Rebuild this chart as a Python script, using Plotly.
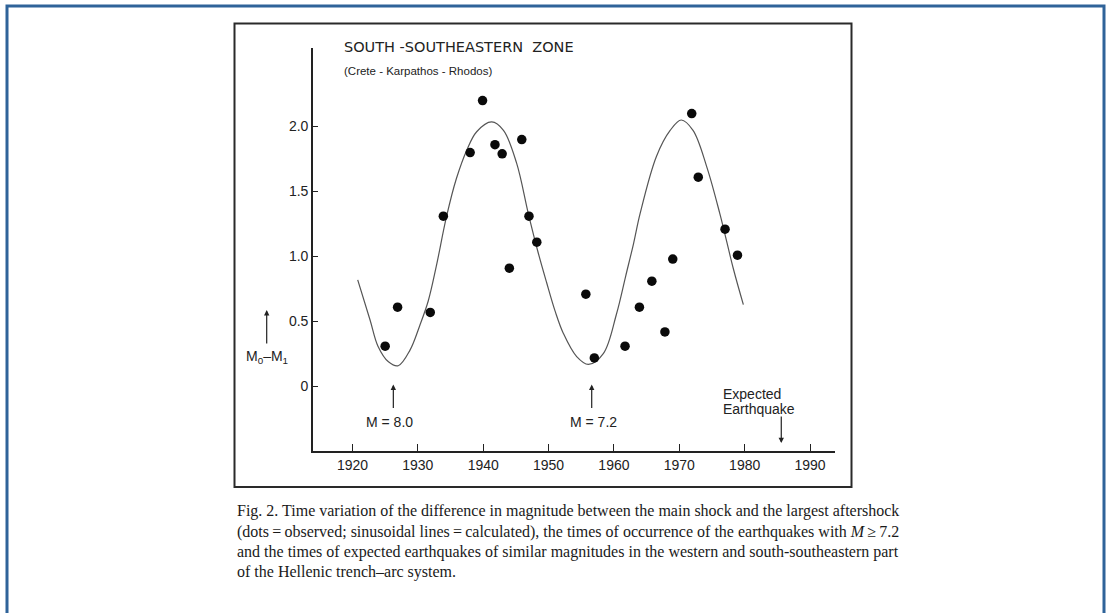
import plotly.graph_objects as go

# ---------------- data ----------------
obs_years = [1925.0, 1926.9, 1931.9, 1933.9, 1938.0, 1939.9, 1941.8, 1942.9, 1944.0,
             1945.9, 1947.0, 1948.2, 1955.7, 1957.0, 1961.7, 1963.9, 1965.8, 1967.8,
             1969.0, 1971.9, 1972.9, 1977.0, 1978.9]
obs_values = [0.31, 0.61, 0.57, 1.31, 1.80, 2.20, 1.86, 1.79, 0.91,
              1.90, 1.31, 1.11, 0.71, 0.22, 0.31, 0.61, 0.81, 0.42,
              0.98, 2.10, 1.61, 1.21, 1.01]

calc_years = [1920.8, 1922.7, 1923.9, 1925.5, 1927.0, 1928.8, 1930.3, 1931.6, 1932.8,
              1934.4, 1935.9, 1937.5, 1939.0, 1941.3, 1943.1, 1945.1, 1946.9, 1948.3,
              1949.7, 1951.0, 1952.25, 1954.3, 1956.1, 1958.4, 1960.4, 1961.8, 1963.0,
              1964.0, 1966.5, 1968.6, 1970.3, 1972.1, 1974.2, 1976.2, 1978.3, 1979.8]
calc_values = [0.82, 0.51, 0.31, 0.19, 0.16, 0.28, 0.47, 0.66, 0.92,
               1.31, 1.60, 1.82, 1.96, 2.035, 1.97, 1.72, 1.33, 1.05,
               0.80, 0.58, 0.41, 0.23, 0.17, 0.255, 0.56, 0.85, 1.10,
               1.33, 1.77, 1.97, 2.05, 1.97, 1.69, 1.33, 0.90, 0.63]

event_years = [1926.25, 1956.6]
event_labels = ["M = 8.0", "M = 7.2"]
expected_year = 1985.6

x_ticks = [1920, 1930, 1940, 1950, 1960, 1970, 1980, 1990]
y_ticks = [0, 0.5, 1.0, 1.5, 2.0]
y_tick_text = ["0", "0.5", "1.0", "1.5", "2.0"]

caption_lines = [
    "Fig. 2. Time variation of the difference in magnitude between the main shock and the largest aftershock",
    "(dots\u2009=\u2009observed; sinusoidal lines\u2009=\u2009calculated), the times of occurrence of the earthquakes with <i>M</i>\u2009\u2265\u20097.2",
    "and the times of expected earthquakes of similar magnitudes in the western and south-southeastern part",
    "of the Hellenic trench\u2013arc system.",
]

# ---------------- layout geometry ----------------
W, H = 1112, 613
PL, PR, PT, PB = 313, 835, 48, 451


def px(x):
    return (x - PL) / (PR - PL)


def py(y):
    return (PB - y) / (PB - PT)


INK = "#222222"
SANS = "Liberation Sans, Arial, sans-serif"

fig = go.Figure()
fig.add_trace(go.Scatter(x=calc_years, y=calc_values, mode="lines",
                         line=dict(color="#555555", width=1.2, shape="spline", smoothing=1.0),
                         hoverinfo="skip", showlegend=False))
fig.add_trace(go.Scatter(x=obs_years, y=obs_values, mode="markers",
                         marker=dict(color="#0a0a0a", size=9.5), showlegend=False))

shapes = [
    # outer blue frame
    dict(type="rect", xref="paper", yref="paper", x0=px(7), x1=px(1104), y0=py(630), y1=py(6),
         line=dict(color="#2f6399", width=3), fillcolor="rgba(0,0,0,0)", layer="below"),
    # figure box
    dict(type="rect", xref="paper", yref="paper", x0=px(234.5), x1=px(851.5), y0=py(487), y1=py(23.5),
         line=dict(color="#2a2a2a", width=2), fillcolor="rgba(0,0,0,0)", layer="below"),
]

ann = []
# title
ann.append(dict(xref="paper", yref="paper", x=px(342), y=py(47), xanchor="left", yanchor="middle",
                text="SOUTH \u2011SOUTHEASTERN  ZONE", showarrow=False,
                font=dict(family="DejaVu Sans", size=14.5, color=INK)))
ann.append(dict(xref="paper", yref="paper", x=px(342), y=py(70.5), xanchor="left", yanchor="middle",
                text="(Crete \u2011 Karpathos \u2011 Rhodos)", showarrow=False,
                font=dict(family="Liberation Sans, sans-serif", size=11.5, color=INK)))
# event arrows and labels
label_px = [389, 593]
for yr, lab, lp in zip(event_years, event_labels, label_px):
    ann.append(dict(x=yr, y=0.015, xref="x", yref="y", ax=0, ay=25, text="", showarrow=True,
                    arrowhead=2, arrowsize=0.9, arrowwidth=1.2, arrowcolor=INK, standoff=0))
    ann.append(dict(xref="paper", yref="paper", x=px(lp), y=py(421.5), xanchor="center", yanchor="middle",
                    text=lab, showarrow=False, font=dict(family=SANS, size=14, color=INK)))
# expected earthquake
ann.append(dict(x=expected_year, y=-0.435, xref="x", yref="y", ax=0, ay=-28, text="", showarrow=True,
                arrowhead=2, arrowsize=0.9, arrowwidth=1.2, arrowcolor=INK, standoff=0))
ann.append(dict(xref="paper", yref="paper", x=px(721), y=py(393.5), xanchor="left", yanchor="middle",
                text="Expected", showarrow=False, font=dict(family=SANS, size=14, color=INK)))
ann.append(dict(xref="paper", yref="paper", x=px(721), y=py(408.5), xanchor="left", yanchor="middle",
                text="Earthquake", showarrow=False, font=dict(family=SANS, size=14, color=INK)))
# y label with arrow
ann.append(dict(xref="paper", yref="paper", x=px(266.7), y=py(310), axref="pixel", ayref="pixel",
                ax=0, ay=35, text="", showarrow=True, arrowhead=2, arrowsize=0.9, arrowwidth=1.2,
                arrowcolor=INK, standoff=0))
ann.append(dict(xref="paper", yref="paper", x=px(266.7), y=py(357), xanchor="center", yanchor="middle",
                text="M<sub>0</sub>\u2013M<sub>1</sub>", showarrow=False,
                font=dict(family=SANS, size=14, color=INK)))
# caption
for i, line in enumerate(caption_lines):
    ann.append(dict(xref="paper", yref="paper", x=px(235), y=py(511.5 + 20 * i), xanchor="left",
                    yanchor="middle", text=line, showarrow=False,
                    font=dict(family="Liberation Serif, Times New Roman, serif", size=16, color="#1a1a1a")))

fig.update_layout(
    width=W, height=H,
    margin=dict(l=PL, r=W - PR, t=PT, b=H - PB, pad=0),
    paper_bgcolor="white", plot_bgcolor="white",
    shapes=shapes, annotations=ann, showlegend=False,
    xaxis=dict(range=[1913.96, 1993.82], tickvals=x_ticks, ticks="inside", ticklen=7, tickwidth=1.2,
               tickcolor=INK, showline=True, linecolor=INK, linewidth=1.6, showgrid=False,
               zeroline=False, tickfont=dict(family=SANS, size=14, color=INK)),
    yaxis=dict(range=[-0.496, 2.604], tickvals=y_ticks, ticktext=y_tick_text, ticks="inside",
               ticklen=5, tickwidth=1.2, tickcolor=INK, showline=True, linecolor=INK, linewidth=1.6,
               showgrid=False, zeroline=False, tickfont=dict(family=SANS, size=14, color=INK)),
)

fig.write_html("out.html")
